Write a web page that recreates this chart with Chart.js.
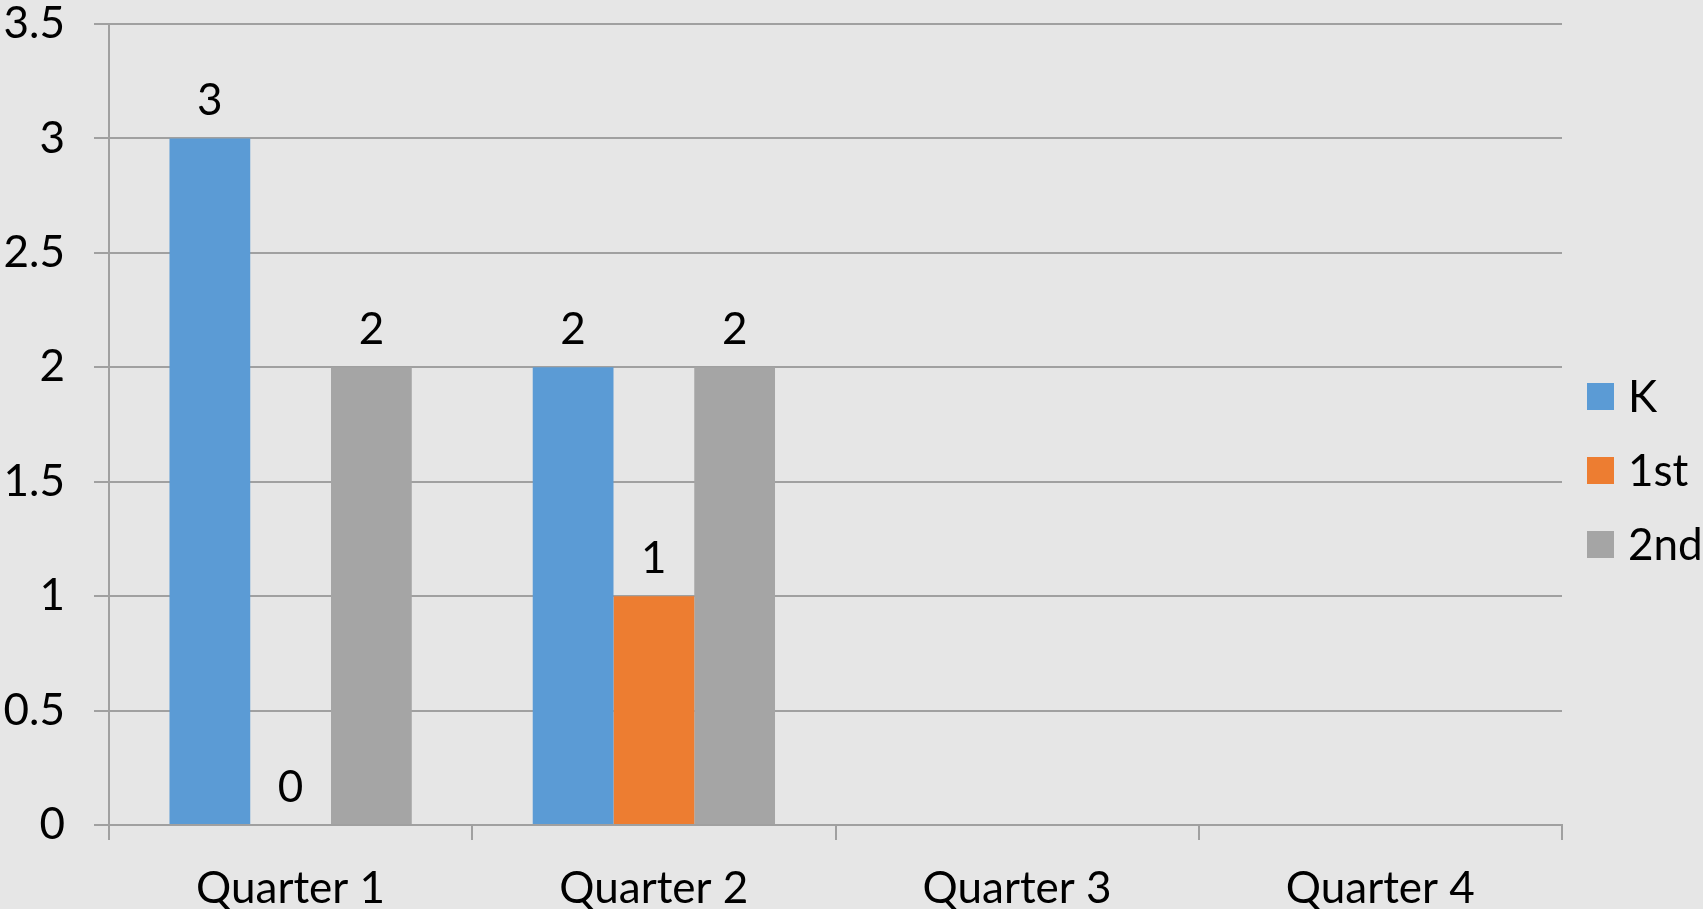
<!DOCTYPE html>
<html>
<head>
<meta charset="utf-8">
<script src="https://cdn.jsdelivr.net/npm/chart.js@4"></script>
<style>
  html, body { margin: 0; padding: 0; background: #e6e6e6; }
  #wrap { width: 1703px; height: 909px; }
</style>
</head>
<body>
<div id="wrap"><canvas id="chart"></canvas></div>
<script>
const quarters = ["Quarter 1", "Quarter 2", "Quarter 3", "Quarter 4"];
const seriesNames = ["K", "1st", "2nd"];
const kValues = [3, 2, null, null];
const firstValues = [0, 1, null, null];
const secondValues = [2, 2, null, null];
const seriesColors = ["#5b9bd5", "#ed7d31", "#a5a5a5"];

const FONT = "Lato, 'Noto Sans', sans-serif";

// value labels over each bar
const barLabels = {
  id: "barLabels",
  afterDatasetsDraw(chart) {
    const ctx = chart.ctx;
    ctx.save();
    ctx.font = "44px " + FONT;
    ctx.fillStyle = "#000";
    ctx.textAlign = "center";
    ctx.textBaseline = "alphabetic";
    chart.data.datasets.forEach((ds, i) => {
      chart.getDatasetMeta(i).data.forEach((bar, j) => {
        const v = ds.data[j];
        if (v === null || v === undefined) return;
        ctx.fillText(String(v), bar.x, bar.y - 23);
      });
    });
    ctx.restore();
  }
};

// legend on the right, drawn by hand so spacing matches
const sideLegend = {
  id: "sideLegend",
  afterDraw(chart) {
    const ctx = chart.ctx;
    const x = chart.chartArea.right + 25;
    const startY = 383;
    ctx.save();
    ctx.font = "44px " + FONT;
    ctx.textBaseline = "middle";
    ctx.textAlign = "left";
    chart.data.datasets.forEach((ds, i) => {
      const y = startY + i * 74;
      ctx.fillStyle = ds.backgroundColor;
      ctx.fillRect(x, y, 27, 27);
      ctx.fillStyle = "#000";
      ctx.fillText(ds.label, x + 41, y + 15);
    });
    ctx.restore();
  }
};

new Chart(document.getElementById("chart"), {
  type: "bar",
  data: {
    labels: quarters,
    datasets: [
      { label: seriesNames[0], data: kValues, backgroundColor: seriesColors[0] },
      { label: seriesNames[1], data: firstValues, backgroundColor: seriesColors[1] },
      { label: seriesNames[2], data: secondValues, backgroundColor: seriesColors[2] }
    ]
  },
  options: {
    responsive: true,
    maintainAspectRatio: false,
    animation: false,
    layout: { padding: { top: 0, right: 141, bottom: 0, left: 0 } },
    datasets: { bar: { barPercentage: 1, categoryPercentage: 0.667 } },
    plugins: {
      legend: { display: false },
      tooltip: { enabled: false }
    },
    scales: {
      x: {
        afterFit(scale) {
          scale.height = 84;
          scale.paddingTop = 0;
          scale.paddingBottom = 0;
        },
        grid: { offset: true, drawOnChartArea: false, drawTicks: true, tickLength: 15, color: "#a0a0a0", lineWidth: 2 },
        border: { color: "#a0a0a0", width: 2 },
        ticks: { color: "#000", padding: 27, font: { family: FONT, size: 44, lineHeight: 1 } }
      },
      y: {
        min: 0,
        max: 3.5,
        afterFit(scale) {
          scale.width = 109;
          scale.paddingTop = 24;
          scale.paddingBottom = 0;
        },
        grid: { color: "#a0a0a0", lineWidth: 2, tickLength: 15 },
        border: { color: "#a0a0a0", width: 2 },
        ticks: {
          stepSize: 0.5,
          color: "#000",
          padding: 29,
          font: { family: FONT, size: 44, lineHeight: 1 },
          callback: (v) => String(v)
        }
      }
    }
  },
  plugins: [barLabels, sideLegend]
});
</script>
</body>
</html>
